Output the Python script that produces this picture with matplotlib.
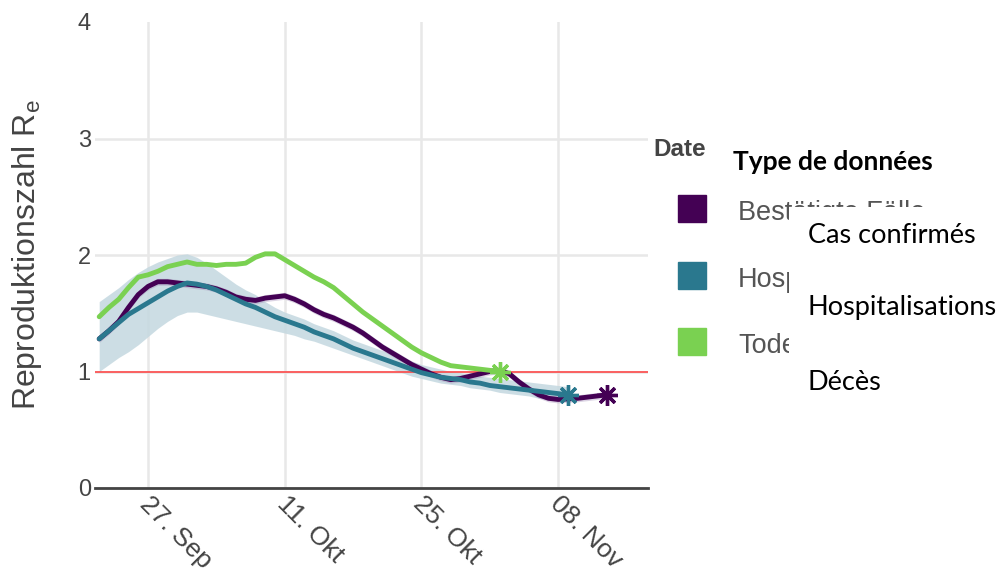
#!/usr/bin/env python3

import numpy as np
import pandas as pd
import matplotlib

matplotlib.use("Agg")
import matplotlib.pyplot as plt
import matplotlib.transforms as mtransforms
from matplotlib.patches import Rectangle

plt.rcParams["font.family"] = ["Liberation Sans", "DejaVu Sans"]

# Re-Schätzungen, täglich ab 22. September 2020
start = pd.Timestamp("2020-09-22")

faelle = [1.28, 1.35, 1.43, 1.55, 1.66, 1.73, 1.77, 1.77, 1.76, 1.75,
          1.74, 1.73, 1.71, 1.68, 1.64, 1.62, 1.61, 1.63, 1.64, 1.65,
          1.62, 1.58, 1.53, 1.49, 1.46, 1.42, 1.38, 1.33, 1.27, 1.21,
          1.16, 1.11, 1.06, 1.02, 0.98, 0.95, 0.93, 0.94, 0.96, 0.98,
          1.00, 1.01, 0.98, 0.91, 0.85, 0.80, 0.77, 0.76, 0.765, 0.77,
          0.78, 0.79, 0.80]

hosp = [1.28, 1.35, 1.42, 1.49, 1.54, 1.59, 1.64, 1.69, 1.73, 1.76,
        1.75, 1.73, 1.70, 1.66, 1.62, 1.58, 1.55, 1.51, 1.47, 1.44,
        1.41, 1.38, 1.34, 1.31, 1.28, 1.24, 1.20, 1.17, 1.14, 1.11,
        1.08, 1.05, 1.02, 0.99, 0.97, 0.95, 0.94, 0.93, 0.91, 0.90,
        0.88, 0.87, 0.86, 0.85, 0.84, 0.83, 0.82, 0.81, 0.80]

hosp_hi = [1.60, 1.66, 1.72, 1.79, 1.85, 1.90, 1.94, 1.97, 2.00, 2.01,
           1.98, 1.93, 1.87, 1.81, 1.75, 1.70, 1.66, 1.60, 1.55, 1.51,
           1.48, 1.45, 1.41, 1.38, 1.35, 1.31, 1.27, 1.24, 1.21, 1.18,
           1.15, 1.12, 1.09, 1.06, 1.04, 1.02, 1.00, 0.99, 0.97, 0.96,
           0.95, 0.94, 0.93, 0.92, 0.91, 0.90, 0.89, 0.88, 0.87]

hosp_lo = [1.00, 1.06, 1.12, 1.17, 1.23, 1.30, 1.37, 1.43, 1.48, 1.51,
           1.51, 1.49, 1.47, 1.45, 1.43, 1.41, 1.39, 1.37, 1.35, 1.33,
           1.31, 1.28, 1.26, 1.23, 1.20, 1.17, 1.14, 1.11, 1.08, 1.05,
           1.02, 0.99, 0.96, 0.94, 0.92, 0.90, 0.89, 0.88, 0.86, 0.85,
           0.84, 0.82, 0.81, 0.80, 0.79, 0.77, 0.76, 0.75, 0.74]

tode = [1.47, 1.55, 1.62, 1.72, 1.81, 1.83, 1.86, 1.90, 1.92, 1.94,
        1.92, 1.92, 1.91, 1.92, 1.92, 1.93, 1.98, 2.01, 2.01, 1.96,
        1.91, 1.86, 1.81, 1.77, 1.72, 1.65, 1.58, 1.51, 1.45, 1.39,
        1.33, 1.27, 1.21, 1.16, 1.12, 1.08, 1.05, 1.04, 1.03, 1.02,
        1.01, 1.00]

tick_dates = ["2020-09-27", "2020-10-11", "2020-10-25", "2020-11-08"]
tick_labels = ["27. Sep", "11. Okt", "25. Okt", "08. Nov"]

legend_de = ["Bestätigte Fälle", "Hospitalisierungen", "Todesfälle"]
legend_fr = ["Cas confirmés", "Hospitalisations", "Décès"]

colors = ["#440154", "#2a788e", "#7ad151"]

W, H = 1003, 576


def days(n):
    return pd.date_range(start, periods=n, freq="D")


def fx(px):
    return px / W


def fy(py):
    return 1 - py / H


fig = plt.figure(figsize=(W / 100, H / 100), dpi=100)
ax = fig.add_axes([fx(95), fy(488), 553 / W, 466 / H])

# Konfidenzband Hospitalisierungen
ax.fill_between(days(len(hosp)), hosp_lo, hosp_hi, color="#c4d8e0",
                alpha=0.85, linewidth=0, zorder=1)
f = np.array(faelle)
ax.fill_between(days(len(f)), f - 0.03, f + 0.03, color="#9b86b3",
                alpha=0.35, linewidth=0, zorder=2)

ax.axhline(1, color="#ff3b3b", linewidth=1.1, zorder=3)

for serie, col in zip([faelle, hosp, tode], colors):
    d = days(len(serie))
    ax.plot(d, serie, color=col, linewidth=3.5, solid_capstyle="round",
            zorder=4)
    ax.plot(d[-1:], serie[-1:], linestyle="none", marker=(8, 2, 0),
            markersize=15, markeredgewidth=2.4, color=col,
            markeredgecolor=col, zorder=5)

ax.set_xlim(start - pd.Timedelta(days=0.43), start + pd.Timedelta(days=56.2))
ax.set_ylim(0, 4)
ax.set_yticks([0, 1, 2, 3, 4])
ax.set_xticks(pd.to_datetime(tick_dates))
ax.set_xticklabels(tick_labels, rotation=-45, ha="left", va="center",
                   rotation_mode="anchor")
ax.tick_params(axis="both", length=0, labelcolor="#444444")
ax.tick_params(axis="x", pad=9, labelsize=19)
ax.tick_params(axis="y", pad=3, labelsize=17)

# Datumsbeschriftungen etwas nach links schieben
shift = mtransforms.ScaledTranslation(-3 / 72, 0, fig.dpi_scale_trans)
for lab in ax.get_xticklabels():
    lab.set_transform(lab.get_transform() + shift)

ax.grid(True, color="#e8e8e8", linewidth=1.8, zorder=0)
ax.set_axisbelow(True)
ax.yaxis.get_gridlines()[-1].set_visible(False)
for side in ["top", "right", "left"]:
    ax.spines[side].set_visible(False)
ax.spines["bottom"].set_color("#444444")
ax.spines["bottom"].set_linewidth(2)
ax.spines["bottom"].set_zorder(6)

ax.set_ylabel("Reproduktionszahl R$_\\mathregular{e}$", fontsize=23,
              color="#444444")
ax.yaxis.set_label_coords((44 - 95) / 553, 0.5)

# Legende
fig.text(fx(653), fy(149), "Date", fontsize=17.5, color="#444444",
         fontweight="bold", va="center", ha="left")
for lab, col, yy in zip(legend_de, colors, [208, 275, 341]):
    fig.patches.append(Rectangle((fx(678), fy(yy + 13.5)), 28 / W, 27 / H,
                                 color=col, transform=fig.transFigure,
                                 figure=fig))
    fig.text(fx(738), fy(yy + 5), lab, fontsize=19.5, color="#555555",
             va="center", ha="left")

fig.patches.append(Rectangle((fx(789), 0), (W - 789) / W, fy(207),
                             facecolor="white", edgecolor="none",
                             transform=fig.transFigure, figure=fig, zorder=10))

fig.text(fx(733), fy(170), "Type de données", fontsize=19,
         fontweight="bold", family="Lato", color="black", va="baseline",
         ha="left", zorder=11)
for lab, yy in zip(legend_fr, [243, 315, 390]):
    fig.text(fx(808), fy(yy), lab, fontsize=19.5, family="Lato",
             color="black", va="baseline", ha="left", zorder=11)

plt.savefig("out.png", dpi=100)
